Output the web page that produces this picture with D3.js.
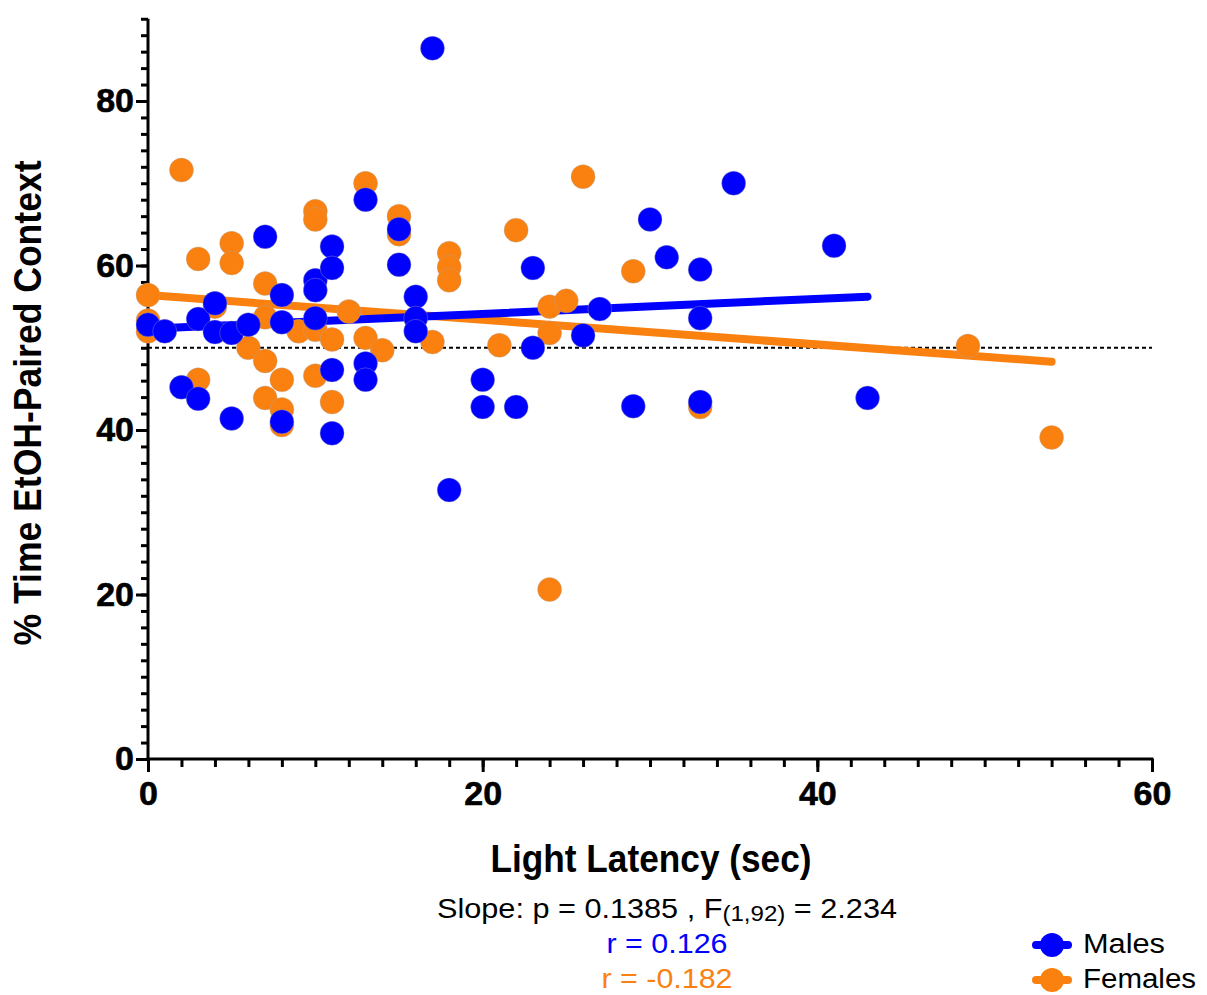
<!DOCTYPE html>
<html>
<head>
<meta charset="utf-8">
<script src="https://cdn.jsdelivr.net/npm/d3@7/dist/d3.min.js"></script>
<style>
  html, body { margin: 0; padding: 0; background: #fff; }
  svg { display: block; }
  text { font-family: Arial, "Liberation Sans", Helvetica, sans-serif; }
</style>
</head>
<body>
<svg id="chart" width="1207" height="995"></svg>
<script>
// Light latency (sec) vs % time in EtOH-paired context
const maleX = [0, 1, 2, 3, 3, 4, 4, 5, 5, 6, 7, 8, 8, 8, 10, 10, 10, 11, 11, 11, 11,
  13, 13, 13, 15, 15, 16, 16, 16, 17, 18, 20, 20, 22, 23, 23, 26, 27, 29, 30, 31, 33, 33, 33, 35, 41, 43];
const maleY = [52.8, 52.0, 45.2, 43.8, 53.5, 55.4, 51.9, 51.8, 41.4, 52.8, 63.5, 56.4, 53.1, 41.0, 58.2, 57.0, 53.6,
  62.3, 59.7, 47.3, 39.6, 68.0, 48.1, 46.1, 64.4, 60.1, 56.2, 53.6, 52.0, 86.4, 32.7, 46.1, 42.8, 42.8, 59.7, 50.0,
  51.5, 54.7, 42.9, 65.6, 61.0, 59.5, 53.6, 43.4, 70.0, 62.4, 43.9];

const femaleX = [0, 0, 0, 2, 3, 3, 4, 5, 5, 6, 7, 7, 7, 7, 8, 8, 8, 9, 10, 10, 10, 10, 11, 11, 12, 13, 13, 14,
  15, 15, 17, 18, 18, 18, 21, 22, 24, 24, 24, 25, 26, 29, 33, 49, 54];
const femaleY = [56.4, 53.3, 52.0, 71.6, 60.8, 46.1, 55.0, 62.7, 60.3, 50.0, 57.8, 53.7, 48.4, 43.9, 46.1, 42.5, 40.6,
  52.0, 66.6, 65.6, 52.2, 46.6, 51.0, 43.4, 54.4, 70.0, 51.2, 49.7, 66.0, 63.8, 50.7, 61.5, 59.8, 58.2, 50.3, 64.3,
  55.0, 51.8, 20.6, 55.7, 70.8, 59.3, 42.8, 50.2, 39.1];

// Linear fits: [intercept, slope], fitted over each group's latency range
const maleFit = [52.3, 0.091];
const femaleFit = [56.4, -0.150];

const xTicks = [0, 20, 40, 60];
const yTicks = [0, 20, 40, 60, 80];
const chanceLevel = 50;

const BLUE = "#0000FF";
const ORANGE = "#FA800F";

const svg = d3.select("#chart");
const x = d3.scaleLinear().domain([0, 60]).range([148, 1152]);
const y = d3.scaleLinear().domain([0, 90]).range([759, 18.75]);

// Axes: minor ticks every 2 units, major ticks labelled
function styleAxis(g) {
  g.select(".domain").remove();
  g.selectAll(".tick line").attr("stroke", "#000").attr("stroke-width", 3);
}
function styleLabels(g) {
  g.selectAll("text").attr("font-size", 34).attr("font-weight", "bold")
    .attr("fill", "#000").attr("stroke", "#000").attr("stroke-width", 0.6)
    .attr("font-family", "Arial, 'Liberation Sans', sans-serif");
}

svg.append("g").attr("transform", `translate(${x(0)},0)`)
  .call(d3.axisLeft(y).tickValues(d3.range(0, 91, 2)).tickSize(7).tickFormat(""))
  .call(styleAxis);
svg.append("g").attr("transform", `translate(${x(0)},0)`)
  .call(d3.axisLeft(y).tickValues(yTicks).tickSize(12).tickPadding(2).tickFormat(d3.format("d")))
  .call(styleAxis)
  .call(styleLabels);

svg.append("g").attr("transform", `translate(0,${y(0)})`)
  .call(d3.axisBottom(x).tickValues(d3.range(0, 61, 2)).tickSize(8).tickFormat(""))
  .call(styleAxis);
svg.append("g").attr("transform", `translate(0,${y(0)})`)
  .call(d3.axisBottom(x).tickValues(xTicks).tickSize(13).tickPadding(9).tickFormat(d3.format("d")))
  .call(styleAxis)
  .call(styleLabels);

// Axis lines
svg.append("line").attr("x1", x(0)).attr("x2", x(0)).attr("y1", y(90)).attr("y2", y(0) + 1.5)
  .attr("stroke", "#000").attr("stroke-width", 3);
svg.append("line").attr("x1", x(0) - 1.5).attr("x2", x(60) + 1.5).attr("y1", y(0)).attr("y2", y(0))
  .attr("stroke", "#000").attr("stroke-width", 3);

// 50% reference line
svg.append("line").attr("x1", x(0)).attr("x2", x(60)).attr("y1", y(chanceLevel)).attr("y2", y(chanceLevel))
  .attr("stroke", "#000").attr("stroke-width", 2).attr("stroke-dasharray", "4,3");

// Regression lines
function fitLine(fit, xs, color) {
  const x0 = d3.min(xs), x1 = d3.max(xs);
  svg.append("line")
    .attr("x1", x(x0)).attr("y1", y(fit[0] + fit[1] * x0))
    .attr("x2", x(x1)).attr("y2", y(fit[0] + fit[1] * x1))
    .attr("stroke", color).attr("stroke-width", 8).attr("stroke-linecap", "round");
}
fitLine(femaleFit, femaleX, ORANGE);
fitLine(maleFit, maleX, BLUE);

// Points
function dots(xs, ys, color) {
  svg.append("g").selectAll("circle").data(xs.map((d, i) => [d, ys[i]])).join("circle")
    .attr("cx", d => x(d[0])).attr("cy", d => y(d[1])).attr("r", 12)
    .attr("fill", color).attr("stroke", "#aaa").attr("stroke-width", 0.6).attr("stroke-opacity", 0.6);
}
dots(femaleX, femaleY, ORANGE);
dots(maleX, maleY, BLUE);

// Axis titles
svg.append("text").attr("x", 651).attr("y", 872).attr("text-anchor", "middle")
  .attr("font-size", 38).attr("font-weight", "bold")
  .attr("textLength", 321).attr("lengthAdjust", "spacingAndGlyphs")
  .text("Light Latency (sec)");

svg.append("text").attr("transform", "translate(41,403) rotate(-90)").attr("text-anchor", "middle")
  .attr("font-size", 38).attr("font-weight", "bold")
  .attr("textLength", 485).attr("lengthAdjust", "spacingAndGlyphs")
  .text("% Time EtOH-Paired Context");

// Statistics
const stat = svg.append("text").attr("x", 437).attr("y", 918).attr("font-size", 28)
  .attr("textLength", 460).attr("lengthAdjust", "spacingAndGlyphs");
stat.append("tspan").text("Slope: p = 0.1385 , F");
stat.append("tspan").attr("font-size", 22).attr("dy", 3).text("(1,92)");
stat.append("tspan").attr("dy", -3).text(" = 2.234");

svg.append("text").attr("x", 667).attr("y", 953).attr("text-anchor", "middle").attr("font-size", 28)
  .attr("fill", BLUE).attr("textLength", 121).attr("lengthAdjust", "spacingAndGlyphs").text("r = 0.126");
svg.append("text").attr("x", 667).attr("y", 988).attr("text-anchor", "middle").attr("font-size", 28)
  .attr("fill", ORANGE).attr("textLength", 131).attr("lengthAdjust", "spacingAndGlyphs").text("r = -0.182");

// Legend
const legend = [
  { label: "Males", color: BLUE, cy: 945, w: 82 },
  { label: "Females", color: ORANGE, cy: 980, w: 113 }
];
const lg = svg.append("g").selectAll("g").data(legend).join("g");
lg.append("line").attr("x1", 1036).attr("x2", 1068).attr("y1", d => d.cy).attr("y2", d => d.cy)
  .attr("stroke", d => d.color).attr("stroke-width", 8).attr("stroke-linecap", "round");
lg.append("circle").attr("cx", 1052).attr("cy", d => d.cy).attr("r", 12).attr("fill", d => d.color);
lg.append("text").attr("x", 1083).attr("y", d => d.cy + 8).attr("font-size", 27)
  .attr("textLength", d => d.w).attr("lengthAdjust", "spacingAndGlyphs").text(d => d.label);
</script>
</body>
</html>
